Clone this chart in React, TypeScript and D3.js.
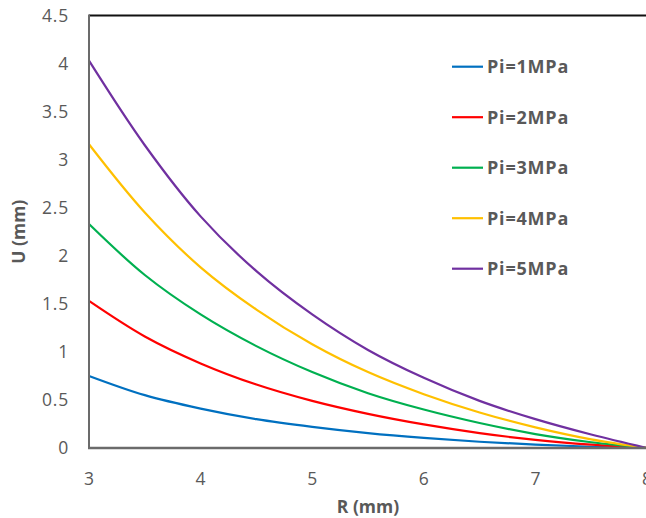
import React from "react";
import * as d3 from "d3";

const R_VALUES = [3, 3.5, 4, 4.5, 5, 5.5, 6, 6.5, 7, 7.5, 8];
const PI1 = [0.75, 0.55, 0.41, 0.3, 0.22, 0.155, 0.105, 0.065, 0.035, 0.013, 0];
const PI2 = [1.53, 1.16, 0.88, 0.66, 0.49, 0.355, 0.245, 0.155, 0.085, 0.035, 0];
const PI3 = [2.33, 1.8, 1.39, 1.06, 0.79, 0.57, 0.4, 0.26, 0.145, 0.06, 0];
const PI4 = [3.16, 2.45, 1.88, 1.44, 1.08, 0.79, 0.56, 0.37, 0.215, 0.09, 0];
const PI5 = [4.03, 3.15, 2.41, 1.84, 1.39, 1.02, 0.73, 0.49, 0.3, 0.14, 0];
const SERIES_NAMES = ["Pi=1MPa", "Pi=2MPa", "Pi=3MPa", "Pi=4MPa", "Pi=5MPa"];
const SERIES_COLORS = ["#0070C0", "#FF0000", "#00B050", "#FFC000", "#7030A0"];
const X_TICKS = [3, 4, 5, 6, 7, 8];
const Y_TICKS = [0, 0.5, 1, 1.5, 2, 2.5, 3, 3.5, 4, 4.5];

export default function App() {
  const W = 646, H = 518;
  const left = 89, right = 647, top = 15.5, bottom = 448;
  const x = d3.scaleLinear().domain([3, 8]).range([left, right]);
  const y = d3.scaleLinear().domain([0, 4.5]).range([bottom, top]);
  const all = [PI1, PI2, PI3, PI4, PI5];
  const line = d3
    .line<[number, number]>()
    .x((d) => x(d[0]))
    .y((d) => y(d[1]))
    .curve(d3.curveCatmullRom.alpha(0.5));
  const font = "'Open Sans', sans-serif";
  const textColor = "#595959";
  return (
    <svg width={W} height={H} style={{ position: "absolute", left: 0, top: 0, background: "#fff" }}>
      <rect x={0} y={0} width={W} height={H} fill="#fff" />
      {all.map((vals, i) => (
        <path
          key={i}
          d={line(R_VALUES.map((r, j) => [r, vals[j]] as [number, number])) || ""}
          fill="none"
          stroke={SERIES_COLORS[i]}
          strokeWidth={2.2}
        />
      ))}
      <line x1={left} x2={W} y1={y(4.5)} y2={y(4.5)} stroke="#111" strokeWidth={2} />
      <line x1={left} x2={left} y1={y(4.5) - 1} y2={bottom} stroke="#6b6b6b" strokeWidth={2} />
      <line x1={left - 1} x2={W} y1={bottom} y2={bottom} stroke="#6b6b6b" strokeWidth={2.5} />
      {Y_TICKS.map((t) => (
        <text key={t} x={69} y={y(t)} dy="0.35em" textAnchor="end" fontFamily={font} fontSize={17.5} letterSpacing={0.8} fill={textColor}>
          {t}
        </text>
      ))}
      {X_TICKS.map((t) => (
        <text key={t} x={x(t)} y={479} dy="0.35em" textAnchor="middle" fontFamily={font} fontSize={17.5} fill={textColor}>
          {t}
        </text>
      ))}
      <text x={368} y={507} dy="0.35em" textAnchor="middle" fontFamily={font} fontSize={17.5} fontWeight="bold" fill={textColor}>
        R (mm)
      </text>
      <text
        transform={`translate(19,${(top + bottom) / 2}) rotate(-90)`}
        dy="0.35em"
        textAnchor="middle"
        fontFamily={font}
        fontSize={17.5}
        fontWeight="bold"
        fill={textColor}
      >
        U (mm)
      </text>
      {SERIES_NAMES.map((name, i) => {
        const ly = 66.7 + i * 50.5;
        return (
          <g key={name}>
            <line x1={452} x2={483} y1={ly} y2={ly} stroke={SERIES_COLORS[i]} strokeWidth={2.2} />
            <text x={487} y={ly} dy="0.35em" fontFamily={font} fontSize={18} letterSpacing={0.8} fontWeight="bold" fill={textColor}>
              {name}
            </text>
          </g>
        );
      })}
    </svg>
  );
}
